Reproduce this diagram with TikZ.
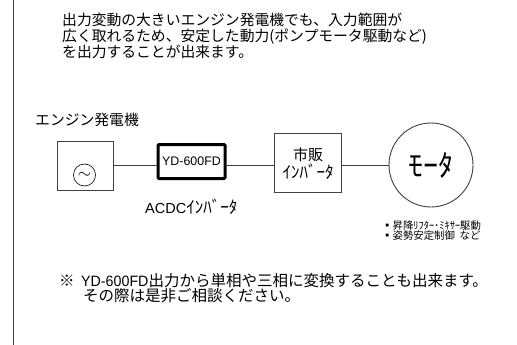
\documentclass[tikz,border=0pt]{standalone}
\usepackage{fontspec}
\usepackage{tikz}
\newfontfamily\jpfont{Noto Sans CJK JP}
\newfontfamily\latinfont{Liberation Sans}
\definecolor{linegray}{gray}{0.25}
\tikzset{
	textline/.style={inner sep=0pt, align=left, anchor=west, text=black},
	bodytext/.style={textline, font=\jpfont\fontsize{14.8}{15.8}\selectfont},
	noticetext/.style={textline, font=\jpfont\fontsize{15.5}{14}\selectfont},
	smalltext/.style={textline, font=\jpfont\fontsize{10.4}{10}\selectfont},
	block/.style={draw=linegray, line width=0.9pt, rectangle, inner sep=0pt},
	wire/.style={draw=linegray, line width=0.9pt}
}
\begin{document}
\begin{tikzpicture}[x=1pt, y=-1pt]
	\useasboundingbox (0,0) rectangle (517,345);
	\fill[white] (0,0) rectangle (517,345);

	\coordinate (bordertop) at (13,0);
	\coordinate (borderbottom) at (13,345);
	\draw[linegray, line width=1pt] (bordertop) -- (borderbottom);

	\node[bodytext] (intro) at (62,36) {出力変動の大きいエンジン発電機でも、入力範囲が\\広く取れるため、安定した動力(ポンプモータ駆動など)\\を出力することが出来ます。};
	\node[bodytext] (genlabel) at (35,120) {エンジン発電機};

	\node[block, minimum width=56.5pt, minimum height=49pt] (gen) at (85.5,165.5) {};
	\node[draw=black, circle, minimum size=22pt, inner sep=0pt, line width=0.6pt] (ac) at (84.5,175) {\scalebox{1.7}{$\sim$}};
	\node[block, draw=black, line width=3pt, rounded corners=1pt, minimum width=67pt, minimum height=34pt, font=\latinfont\fontsize{12.4}{12}\selectfont] (yd) at (191.5,161.5) {\raisebox{-1.5pt}{YD-600FD}};
	\node[block, minimum width=67pt, minimum height=59pt] (inv) at (307.5,162.5) {};
	\node[inner sep=0pt, font=\jpfont\fontsize{15}{15}\selectfont] (invtop) at (308,155) {市販};
	\node[inner sep=0pt, font=\jpfont\fontsize{17}{15}\selectfont] (invbottom) at (308,172) {ｲﾝﾊﾞｰﾀ};
	\node[block, circle, minimum size=84pt, font=\jpfont\fontsize{30}{30}\selectfont] (motor) at (431,165) {ﾓｰﾀ};

	\coordinate (busline) at (0,165);
	\draw[wire] (gen.east |- busline) -- (yd.west |- busline);
	\draw[wire] (yd.east |- busline) -- (inv.west |- busline);
	\draw[wire] (inv.east |- busline) -- (motor.west);

	\node[textline, font=\latinfont\fontsize{14.5}{14}\selectfont] (acdc) at (145,207) {ACDC\jpfont\fontsize{17}{14}\selectfont ｲﾝﾊﾞｰﾀ};
	\node[smalltext] (uses) at (382,231) {▪昇降ﾘﾌﾀｰ･ﾐｷｻｰ駆動\\▪姿勢安定制御\ \ など};

	\node[noticetext] (mark) at (59,281) {※};
	\node[noticetext] (notice) at (81,288) {{\latinfont\fontsize{15}{15}\selectfont\scalebox{0.95}[1]{YD-600FD}}出力から単相や三相に変換することも出来ます。\\\hspace*{2pt}その際は是非ご相談ください。};
\end{tikzpicture}
\end{document}
